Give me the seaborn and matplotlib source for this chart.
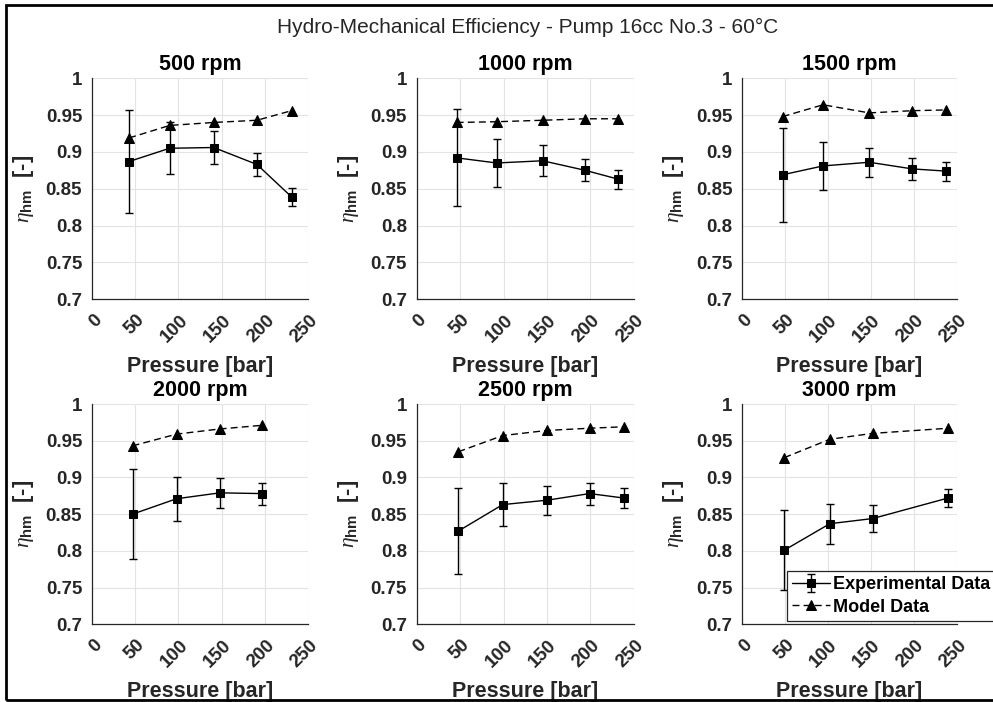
import numpy as np
import pandas as pd
import matplotlib
matplotlib.use("Agg")
import matplotlib.pyplot as plt
import matplotlib.transforms as mtransforms
from matplotlib.patches import Rectangle
from matplotlib.container import ErrorbarContainer
import seaborn as sns

# ---- data -------------------------------------------------------------
speeds = ["500 rpm", "1000 rpm", "1500 rpm", "2000 rpm", "2500 rpm", "3000 rpm"]

pressure_500 = [43, 90, 141, 191, 231]
pressure_1000 = [46, 92, 145, 194, 232]
pressure_1500 = [47, 94, 148, 198, 237]
pressure_2000 = [47, 98, 148, 197]
pressure_2500 = [48, 99, 150, 199, 238]
pressure_3000 = [49, 102, 152, 240]

exp_500 = [0.887, 0.905, 0.906, 0.883, 0.839]
exp_1000 = [0.892, 0.885, 0.888, 0.875, 0.863]
exp_1500 = [0.869, 0.881, 0.886, 0.877, 0.874]
exp_2000 = [0.850, 0.871, 0.879, 0.878]
exp_2500 = [0.827, 0.863, 0.869, 0.878, 0.872]
exp_3000 = [0.801, 0.837, 0.844, 0.872]

err_500 = [0.070, 0.035, 0.022, 0.016, 0.012]
err_1000 = [0.066, 0.033, 0.021, 0.015, 0.013]
err_1500 = [0.0635, 0.032, 0.020, 0.015, 0.013]
err_2000 = [0.061, 0.030, 0.020, 0.015]
err_2500 = [0.058, 0.029, 0.020, 0.015, 0.013]
err_3000 = [0.054, 0.027, 0.018, 0.012]

model_500 = [0.919, 0.936, 0.940, 0.943, 0.956]
model_1000 = [0.940, 0.941, 0.943, 0.945, 0.945]
model_1500 = [0.948, 0.964, 0.953, 0.956, 0.957]
model_2000 = [0.943, 0.959, 0.966, 0.971]
model_2500 = [0.935, 0.957, 0.964, 0.967, 0.969]
model_3000 = [0.927, 0.952, 0.960, 0.967]

x_ticks = [0, 50, 100, 150, 200, 250]
y_ticks = [0.7, 0.75, 0.8, 0.85, 0.9, 0.95, 1.0]

pressures = [pressure_500, pressure_1000, pressure_1500, pressure_2000, pressure_2500, pressure_3000]
exps = [exp_500, exp_1000, exp_1500, exp_2000, exp_2500, exp_3000]
errs = [err_500, err_1000, err_1500, err_2000, err_2500, err_3000]
models = [model_500, model_1000, model_1500, model_2000, model_2500, model_3000]

rows = []
for spd, p, e, s, m in zip(speeds, pressures, exps, errs, models):
    for pi, ei, si, mi in zip(p, e, s, m):
        rows.append({"speed": spd, "pressure": pi, "exp": ei, "err": si, "model": mi})
df = pd.DataFrame(rows)

# ---- style ------------------------------------------------------------
sns.set_theme(style="white")
plt.rcParams["font.family"] = ["Liberation Sans", "DejaVu Sans"]
plt.rcParams["mathtext.fontset"] = "custom"
plt.rcParams["mathtext.rm"] = "Liberation Sans"
plt.rcParams["mathtext.bf"] = "Liberation Sans:bold"
plt.rcParams["mathtext.it"] = "Liberation Serif:italic"

txt = "#262626"
grid_c = "#e3e3e3"

fig = plt.figure(figsize=(9.93, 7.02), dpi=100)

lefts = [0.0926, 0.4196, 0.7476]
widths = [0.2175, 0.2188, 0.2159]
bottoms = [0.5737, 0.1107]
heights = [0.3148, 0.3138]

for i, spd in enumerate(speeds):
    r, c = divmod(i, 3)
    ax = fig.add_axes([lefts[c], bottoms[r], widths[c], heights[r]])
    sub = df[df["speed"] == spd]

    eb = ax.errorbar(sub["pressure"], sub["exp"], yerr=sub["err"], fmt="none",
                     ecolor="black", elinewidth=1.0, capsize=2.8, capthick=1.0, zorder=3)
    sns.lineplot(data=sub, x="pressure", y="exp", ax=ax, color="black",
                 marker="s", markersize=5.5, linewidth=1.0, markeredgecolor="black",
                 estimator=None, sort=False, zorder=4)
    sns.lineplot(data=sub, x="pressure", y="model", ax=ax, color="black",
                 marker="^", markersize=7.5, linewidth=1.0, markeredgecolor="black",
                 estimator=None, sort=False, zorder=4)
    exp_line, model_line = ax.lines[-2], ax.lines[-1]
    model_line.set_dashes([5, 3])

    ax.set_xlim(0, 250)
    ax.set_ylim(0.7, 1.0)
    ax.set_xticks(x_ticks)
    ax.set_yticks(y_ticks)
    ax.set_yticklabels([f"{v:g}" for v in y_ticks])
    ax.grid(True, color=grid_c, linewidth=0.8)
    ax.set_axisbelow(True)
    for side in ("top", "right"):
        ax.spines[side].set_visible(False)
    for side in ("left", "bottom"):
        ax.spines[side].set_color(txt)
        ax.spines[side].set_linewidth(0.9)
    ax.tick_params(axis="both", direction="in", length=3, width=0.8, color=txt,
                   labelsize=13.5, labelcolor=txt)
    ax.tick_params(axis="y", pad=7)
    ax.tick_params(axis="x", pad=13)
    shift = mtransforms.ScaledTranslation(7 / 100, 0, fig.dpi_scale_trans)
    for lab in ax.get_xticklabels():
        lab.set_rotation(45)
        lab.set_rotation_mode("anchor")
        lab.set_ha("right")
        lab.set_va("center")
        lab.set_fontweight("bold")
        lab.set_transform(lab.get_transform() + shift)
    for lab in ax.get_yticklabels():
        lab.set_fontweight("bold")

    ax.set_title(spd, fontsize=15.5, fontweight="bold", color="black", pad=6)
    ax.set_xlabel("Pressure [bar]", fontsize=15.5, fontweight="bold", color=txt, labelpad=7.5)
    ax.set_ylabel(r"$\eta_{\mathbf{hm}}$  [-]", fontsize=15.5, fontweight="bold",
                  color=txt, labelpad=7)

    if i == 5:
        caps = eb.lines[1]
        bars = eb.lines[2]
        eb_handle = ErrorbarContainer((exp_line, caps, bars), has_xerr=False, has_yerr=True)
        leg = ax.legend([eb_handle, model_line], ["Experimental Data", "Model Data"],
                        loc="lower left", bbox_to_anchor=(0.7923, 0.1154),
                        bbox_transform=fig.transFigure, frameon=True, fancybox=False,
                        framealpha=1, edgecolor=txt, handlelength=2.1,
                        handletextpad=0.15, borderpad=0.3, labelspacing=0.3,
                        borderaxespad=0, prop={"weight": "bold", "size": 13})
        leg.get_frame().set_linewidth(0.9)
        for t in leg.get_texts():
            t.set_color("black")

fig.suptitle("Hydro-Mechanical Efficiency - Pump 16cc No.3 - 60\u00b0C",
             x=0.531, y=0.9615, va="center", fontsize=15, color=txt)

# outer frame of the figure
fig.patches.append(Rectangle((6 / 993, 2.5 / 702), 1.1, 1 - 7.5 / 702,
                             transform=fig.transFigure, fill=False,
                             edgecolor="black", linewidth=2, zorder=10))

fig.savefig("out.png", dpi=100)
